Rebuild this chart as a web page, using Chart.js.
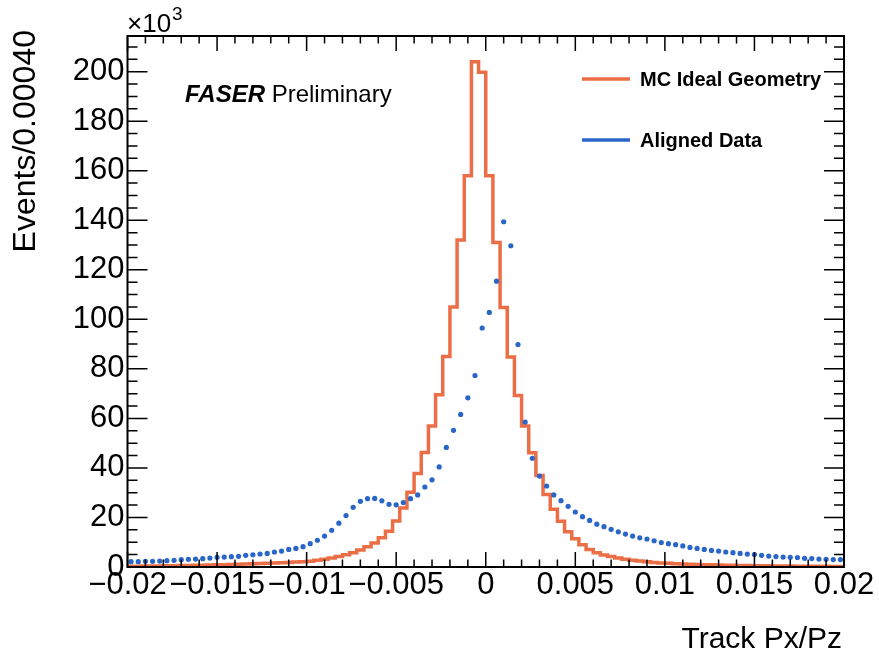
<!DOCTYPE html>
<html>
<head>
<meta charset="utf-8">
<script src="https://cdn.jsdelivr.net/npm/chart.js@4.4.1/dist/chart.umd.min.js"></script>
<style>
  html, body { margin: 0; padding: 0; background: #fff; }
  #wrap { position: relative; width: 879px; height: 656px; }
</style>
</head>
<body>
<div id="wrap"><canvas id="chart"></canvas></div>
<script>
// binning: 100 bins of 0.0004 between -0.02 and 0.02
const xMin = -0.02;
const xMax = 0.02;
const binWidth = 0.0004;

// MC Ideal Geometry, events per bin (x10^3)
const mcIdeal = [
  0.3, 0.3, 0.35, 0.4, 0.4, 0.45, 0.5, 0.55, 0.6, 0.65,
  0.7, 0.75, 0.8, 0.9, 0.95, 1.0, 1.1, 1.2, 1.3, 1.45,
  1.55, 1.65, 1.75, 1.85, 2.0, 2.1, 2.35, 2.7, 3.1, 3.6,
  4.2, 4.9, 5.8, 6.9, 8.2, 9.7, 11.8, 14.4, 18.6, 23.8,
  30.2, 37.8, 46.2, 56.9, 69.5, 85.0, 105.0, 132.0, 158.0, 204.0,
  199.8, 158.0, 131.0, 104.8, 84.8, 69.2, 56.9, 46.1, 36.9, 29.3,
  23.3, 18.5, 14.2, 11.4, 9.0, 7.1, 5.8, 4.8, 4.2, 3.6,
  3.1, 2.7, 2.4, 2.1, 1.85, 1.65, 1.5, 1.35, 1.2, 1.1,
  1.0, 0.95, 0.9, 0.8, 0.75, 0.7, 0.65, 0.6, 0.55, 0.5,
  0.5, 0.45, 0.4, 0.4, 0.35, 0.35, 0.3, 0.3, 0.3, 0.25
];

// Aligned Data, events per bin (x10^3)
const alignedData = [
  2.15, 2.15, 2.3, 2.3, 2.4, 2.55, 2.7, 2.95, 3.1, 3.2,
  3.35, 3.6, 3.9, 4.0, 4.15, 4.3, 4.7, 4.95, 5.25, 5.5,
  6.05, 6.45, 7.1, 7.5, 8.2, 9.4, 10.8, 12.5, 14.8, 17.7,
  20.8, 24.1, 26.5, 27.6, 27.7, 26.7, 25.3, 25.1, 26.0, 27.6,
  29.1, 32.3, 35.2, 40.4, 48.3, 55.2, 61.6, 68.3, 77.3, 96.5,
  102.8, 115.4, 139.4, 129.7, 89.8, 58.5, 43.9, 36.7, 32.7, 29.1,
  26.8, 24.5, 22.2, 20.3, 18.8, 17.3, 16.3, 15.2, 14.2, 13.3,
  12.5, 11.8, 11.3, 10.6, 9.9, 9.4, 9.0, 8.5, 7.9, 7.5,
  7.1, 6.7, 6.45, 6.05, 5.8, 5.5, 5.2, 5.0, 4.7, 4.4,
  4.2, 4.0, 3.9, 3.8, 3.5, 3.4, 3.2, 3.1, 3.0, 3.0
];

const xTickLabels = ['\u22120.02', '\u22120.015', '\u22120.01', '\u22120.005', '0', '0.005', '0.01', '0.015', '0.02'];
const yTickLabels = ['0', '20', '40', '60', '80', '100', '120', '140', '160', '180', '200'];

const ORANGE = '#ec6e46';
const BLUE = '#2a66c8';
const FONT = '"Liberation Sans", Arial, Helvetica, sans-serif';

Chart.defaults.font.family = FONT;
Chart.defaults.color = '#000';

// histogram: one point per lower bin edge, plus the closing edge
const mcPoints = mcIdeal.map((v, i) => ({ x: xMin + i * binWidth, y: v }));
mcPoints.push({ x: xMax, y: mcIdeal[mcIdeal.length - 1] });

// data points at the bin centres
const dataPoints = alignedData.map((v, i) => ({ x: xMin + (i + 0.5) * binWidth, y: v }));

// ROOT-like frame, inward ticks and the texts
const rootStyle = {
  id: 'rootStyle',
  afterDraw(chart) {
    const { ctx, chartArea: a, scales: { x, y } } = chart;
    ctx.save();

    // ticks on all four sides
    ctx.strokeStyle = '#000';
    ctx.lineWidth = 1.5;
    ctx.beginPath();
    for (let k = 0; k <= 40; k++) {
      const px = x.getPixelForValue(xMin + k * 0.001);
      const len = k % 5 === 0 ? 15 : 7.5;
      ctx.moveTo(px, a.bottom);
      ctx.lineTo(px, a.bottom - len);
      ctx.moveTo(px, a.top);
      ctx.lineTo(px, a.top + len);
    }
    for (let v = 0; v <= y.max; v += 5) {
      const py = y.getPixelForValue(v);
      const len = v % 20 === 0 ? 20 : 10;
      ctx.moveTo(a.left, py);
      ctx.lineTo(a.left + len, py);
      ctx.moveTo(a.right, py);
      ctx.lineTo(a.right - len, py);
    }
    ctx.stroke();

    ctx.lineWidth = 2;
    ctx.strokeRect(a.left, a.top, a.right - a.left, a.bottom - a.top);

    ctx.fillStyle = '#000';
    ctx.textBaseline = 'alphabetic';

    // x10^3 multiplier
    ctx.textAlign = 'left';
    ctx.font = '26px ' + FONT;
    ctx.fillText('\u00d710', 127, 32);
    const w10 = ctx.measureText('\u00d710').width;
    ctx.font = '19px ' + FONT;
    ctx.fillText('3', 127 + w10 + 1, 20);

    // FASER Preliminary
    ctx.font = 'italic bold 24px ' + FONT;
    ctx.fillText('FASER', 185, 102);
    const wF = ctx.measureText('FASER ').width;
    ctx.font = '24px ' + FONT;
    ctx.fillText('Preliminary', 185 + wF, 102);

    // legend
    ctx.lineWidth = 3.5;
    ctx.strokeStyle = ORANGE;
    ctx.beginPath();
    ctx.moveTo(582, 79);
    ctx.lineTo(630, 79);
    ctx.stroke();
    ctx.strokeStyle = BLUE;
    ctx.beginPath();
    ctx.moveTo(582, 140);
    ctx.lineTo(630, 140);
    ctx.stroke();
    ctx.font = 'bold 20px ' + FONT;
    ctx.fillText('MC Ideal Geometry', 640, 86);
    ctx.fillText('Aligned Data', 640, 147);

    // axis titles
    ctx.font = '30px ' + FONT;
    ctx.textAlign = 'right';
    ctx.fillText('Track Px/Pz', 842, 648);

    ctx.save();
    ctx.translate(35, 30);
    ctx.rotate(-Math.PI / 2);
    ctx.font = '32px ' + FONT;
    ctx.textAlign = 'right';
    ctx.fillText('Events/0.00040', 0, 0);
    ctx.restore();

    ctx.restore();
  }
};

new Chart(document.getElementById('chart'), {
  data: {
    datasets: [
      {
        type: 'scatter',
        label: 'Aligned Data',
        data: dataPoints,
        pointRadius: 2.6,
        pointBackgroundColor: BLUE,
        pointBorderWidth: 0,
        showLine: false,
        order: 1,
      },
      {
        type: 'line',
        label: 'MC Ideal Geometry',
        data: mcPoints,
        stepped: 'after',
        borderColor: ORANGE,
        borderWidth: 3.5,
        pointRadius: 0,
        fill: false,
        order: 2,
      },
    ],
  },
  options: {
    responsive: true,
    maintainAspectRatio: false,
    animation: false,
    devicePixelRatio: 1,
    layout: { padding: { top: 36, right: 35, left: 0, bottom: 0 } },
    plugins: {
      legend: { display: false },
      tooltip: { enabled: false },
    },
    scales: {
      x: {
        type: 'linear',
        min: xMin,
        max: xMax,
        grid: { display: false, drawTicks: false },
        border: { display: false },
        ticks: {
          stepSize: 0.005,
          includeBounds: false,
          autoSkip: false,
          maxRotation: 0,
          padding: 0,
          font: { size: 31 },
          color: '#000',
          callback: (value) => xTickLabels[Math.round((value - xMin) / 0.005)],
        },
        afterFit: (scale) => {
          scale.height = 89;
          scale.paddingLeft = 0;
          scale.paddingRight = 0;
        },
      },
      y: {
        type: 'linear',
        min: 0,
        max: 214.4,
        grid: { display: false, drawTicks: false },
        border: { display: false },
        ticks: {
          stepSize: 20,
          includeBounds: false,
          padding: 3,
          font: { size: 31 },
          color: '#000',
          callback: (value) => yTickLabels[Math.round(value / 20)],
        },
        afterFit: (scale) => {
          scale.width = 127.5;
          scale.paddingTop = 0;
          scale.paddingBottom = 0;
        },
      },
    },
  },
  plugins: [rootStyle],
});
</script>
</body>
</html>
